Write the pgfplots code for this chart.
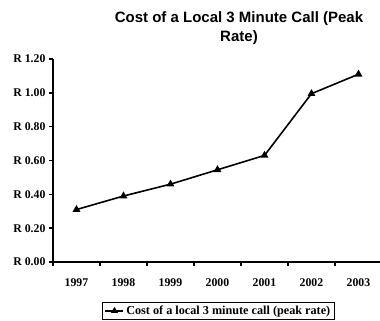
\documentclass[border=0pt]{standalone}
\usepackage{fontspec}
\setmainfont{Liberation Serif}
\newfontfamily\titlefont{Liberation Sans}
\usepackage{pgfplots}
\pgfplotsset{compat=1.18}
\begin{document}
\begin{tikzpicture}[x=1pt,y=1pt]
\useasboundingbox (0,0) rectangle (380,321);
% chart title
\node[align=center, font=\titlefont\bfseries\fontsize{15}{19}\selectfont] at (239,293)
  {Cost of a Local 3 Minute Call (Peak\\Rate)};
\begin{axis}[
  at={(53pt,59pt)}, anchor=south west,
  scale only axis, width=329pt, height=203pt,
  xmin=0, xmax=7, ymin=0, ymax=1.2,
  axis x line*=bottom, axis y line*=left,
  axis line style={line width=1.6pt, black},
  xtick={0,1,2,3,4,5,6,7},
  xticklabels={1997,1998,1999,2000,2001,2002,2003,},
  xticklabel style={xshift=23.5pt, yshift=-9pt},
  ytick={0,0.2,0.4,0.6,0.8,1.0,1.2},
  yticklabels={R 0.00,R 0.20,R 0.40,R 0.60,R 0.80,R 1.00,R 1.20},
  tick align=outside, major tick length=4pt,
  tick style={line width=1.6pt, black},
  ticklabel style={font=\bfseries\fontsize{11.8}{13}\selectfont},
  legend style={at={(0.503,-0.241)}, anchor=center, draw=black, line width=1.2pt,
    font=\bfseries\fontsize{12.2}{14}\selectfont, inner xsep=2pt, inner ysep=1.5pt},
  legend cell align=left,
  legend image code/.code={%
    \draw[mark repeat=2, mark phase=2, #1, mark size=2.5pt]
      plot coordinates {(0pt,0pt) (9pt,0pt) (18pt,0pt)};},
  clip=false,
]
\addplot[black, line width=1.6pt, mark=triangle*, mark size=3pt,
  mark options={solid}]
  coordinates {(0.5,0.31) (1.5,0.39) (2.5,0.46) (3.5,0.545) (4.5,0.63) (5.5,0.995) (6.5,1.11)};
\addlegendentry{Cost of a local 3 minute call (peak rate)}
\end{axis}
\end{tikzpicture}
\end{document}
